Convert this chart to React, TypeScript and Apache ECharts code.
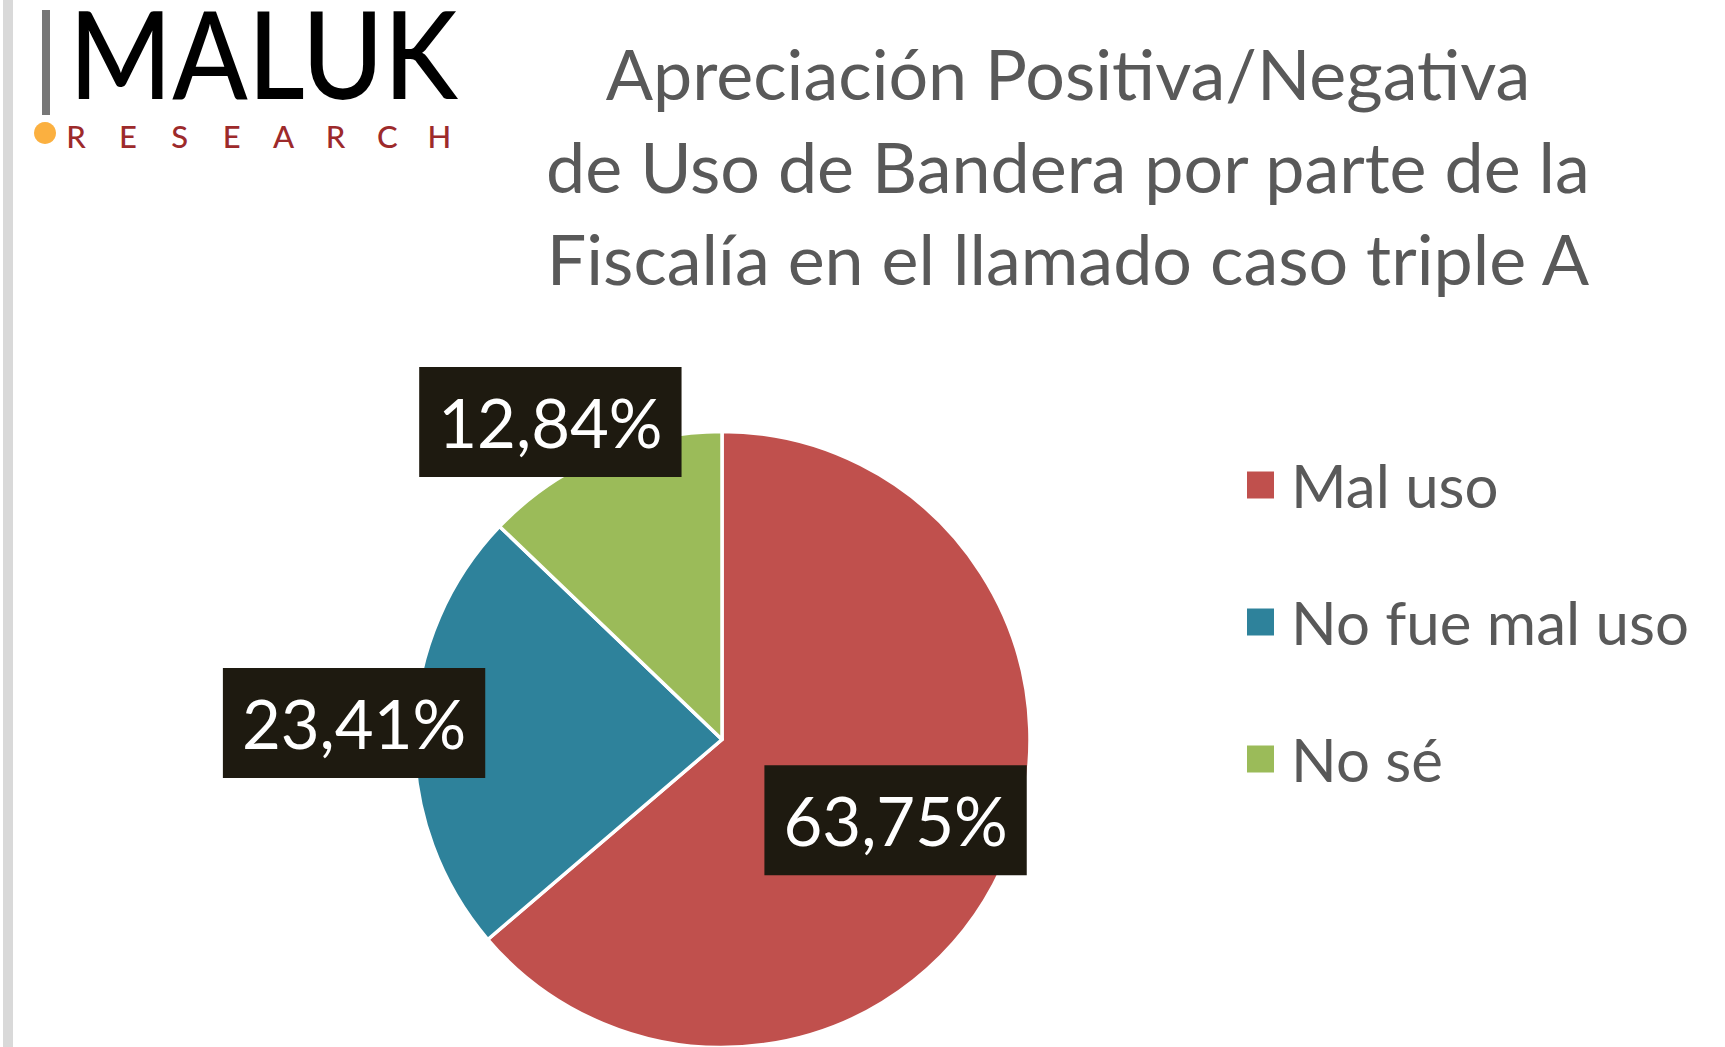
import React, { useEffect, useRef } from "react";
import * as echarts from "echarts";

const categories = ["Mal uso", "No fue mal uso", "No sé"];
const values = [63.75, 23.41, 12.84];
const colors = ["#c0504d", "#2e829b", "#9bbb59"];
const titleLines = [
  "Apreciación Positiva/Negativa",
  "de Uso de Bandera por parte de la",
  "Fiscalía en el llamado caso triple A",
];
const logoLetters = ["R", "E", "S", "E", "A", "R", "C", "H"];
// label offsets relative to the 'inside' anchor of each slice
const labelOffsets = [
  [31, 15],
  [-211, -12],
  [-110, -173],
];

export default function App() {
  const ref = useRef<HTMLDivElement>(null);
  useEffect(() => {
    if (!ref.current) return;
    const chart = echarts.init(ref.current, null, { renderer: "svg" });
    const fmt = (v: number) => v.toFixed(2).replace(".", ",") + "%";
    const graphics: any[] = [
      { type: "rect", shape: { x: 3, y: 0, width: 10, height: 1047 }, style: { fill: "#d9d9d9" } },
      { type: "rect", shape: { x: 42, y: 10, width: 8, height: 105 }, style: { fill: "#777777" } },
      {
        type: "text",
        x: 69,
        y: 53,
        scaleX: 0.915,
        style: {
          text: "MALUK",
          fontFamily: "Lato",
          fontSize: 121,
          lineHeight: 100,
          fontWeight: 500,
          fill: "#000000",
          verticalAlign: "middle",
          align: "left",
        },
      },
      { type: "circle", shape: { cx: 45, cy: 133, r: 11 }, style: { fill: "#fbb040" } },
      ...logoLetters.map((l, i) => ({
        type: "text",
        x: 76 + i * 51.9,
        y: 136,
        style: {
          text: l,
          fontFamily: "Lato",
          fontSize: 31,
          fontWeight: 500,
          fill: "#9d2a2b",
          align: "center",
          verticalAlign: "middle",
        },
      })),
      {
        type: "text",
        x: 1068,
        y: 27,
        style: {
          text: titleLines.join("\n"),
          fontFamily: "Lato",
          fontSize: 70,
          lineHeight: 92.5,
          fill: "#595959",
          align: "center",
          verticalAlign: "top",
        },
      },
    ];
    chart.setOption({
      animation: false,
      backgroundColor: "#ffffff",
      color: colors,
      graphic: graphics,
      legend: {
        orient: "vertical",
        left: 1240,
        top: 450,
        itemWidth: 29,
        itemHeight: 29,
        itemGap: 77,
        icon: "rect",
        data: categories,
        textStyle: {
          fontFamily: "Lato",
          fontSize: 60,
          lineHeight: 60,
          color: "#595959",
          padding: [0, 0, 0, 11],
        },
      },
      series: [
        {
          type: "pie",
          center: [722, 739.5],
          radius: 308,
          startAngle: 90,
          clockwise: true,
          avoidLabelOverlap: false,
          labelLine: { show: false },
          itemStyle: { borderColor: "#ffffff", borderWidth: 3.5 },
          label: {
            show: true,
            position: "inside",
            formatter: (p: any) => fmt(p.value),
            fontFamily: "Lato",
            fontSize: 67,
            lineHeight: 70,
            color: "#ffffff",
            backgroundColor: "#1e1a10",
            padding: [20, 19],
          },
          emphasis: { disabled: true },
          data: categories.map((name, i) => ({
            name,
            value: values[i],
            itemStyle: { color: colors[i] },
            label: { offset: labelOffsets[i] },
          })),
        },
      ],
    });
    return () => chart.dispose();
  }, []);
  return (
    <div
      ref={ref}
      style={{ position: "fixed", left: 0, top: 0, width: 1725, height: 1047 }}
    />
  );
}
